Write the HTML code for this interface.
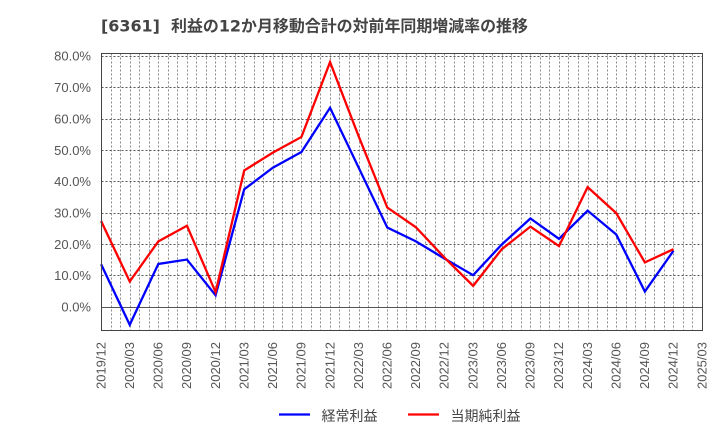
<!DOCTYPE html>
<html lang="ja">
<head>
<meta charset="utf-8">
<title>[6361] 利益の12か月移動合計の対前年同期増減率の推移</title>
<style>
html,body{margin:0;padding:0;background:#fff;}
svg{display:block;}
text{font-family:"Liberation Sans","Noto Sans CJK JP",sans-serif;fill:#555;}
</style>
</head>
<body>
<svg id="chart" xmlns="http://www.w3.org/2000/svg" width="720" height="440" viewBox="0 0 720 440">
  <rect x="0" y="0" width="720" height="440" fill="#fff"/>
  <text x="101" y="31.5" font-size="15.95" font-weight="bold" style="fill:#444;font-family:'DejaVu Sans','Noto Sans CJK JP',sans-serif;">[6361]&#160;&#160;利益の12か月移動合計の対前年同期増減率の推移</text>
  <g id="grid"></g>
  <g id="yticks"></g>
  <g id="xticks"></g>
  <g id="series"></g>
  <rect x="101.5" y="53.5" width="601" height="277" fill="none" stroke="#444" stroke-width="1"/>
  <g>
    <line x1="279" y1="414.5" x2="310" y2="414.5" stroke="#0000ff" stroke-width="2.3"/>
    <text x="321.5" y="421" font-size="14" style="font-family:'Noto Sans CJK JP',sans-serif;fill:#444;">経常利益</text>
    <line x1="408" y1="414.5" x2="439" y2="414.5" stroke="#ff0000" stroke-width="2.3"/>
    <text x="450.5" y="421" font-size="14" style="font-family:'Noto Sans CJK JP',sans-serif;fill:#444;">当期純利益</text>
  </g>
</svg>
<script>
const categories = ["2019/12","2020/03","2020/06","2020/09","2020/12","2021/03","2021/06","2021/09","2021/12","2022/03","2022/06","2022/09","2022/12","2023/03","2023/06","2023/09","2023/12","2024/03","2024/06","2024/09","2024/12","2025/03"];
const ordinaryProfit = [13.7,-5.6,13.8,15.2,3.8,37.6,44.5,49.5,63.6,44.5,25.4,21.0,15.5,10.2,20.0,28.3,21.8,30.8,23.2,5.0,18.0];
const netProfit = [27.5,8.2,21.0,26.0,4.8,43.6,49.3,54.3,78.2,54.5,31.8,25.5,15.8,6.8,18.5,25.7,19.5,38.3,30.0,14.3,18.5];
const yTicks = [0,10,20,30,40,50,60,70,80];

const NS = "http://www.w3.org/2000/svg";
const plotLeft = 101.5, plotRight = 702.5;
const zeroY = 307.2, pxPerPercent = 3.135;
const plotTop = 53.5, plotBottom = 330.5;
const monthsPerCategory = 3;
const markShift = -0.4;

function xScale(i) {
  return plotLeft + i * (plotRight - plotLeft) / (categories.length - 1);
}
function yScale(v) {
  return zeroY - v * pxPerPercent;
}
function make(tag, attrs) {
  const el = document.createElementNS(NS, tag);
  for (const k in attrs) el.setAttribute(k, attrs[k]);
  return el;
}

const grid = document.getElementById("grid");
const monthCount = (categories.length - 1) * monthsPerCategory;
for (let m = 1; m < monthCount; m++) {
  const x = Math.round(xScale(m / monthsPerCategory) - 0.5) + 0.5;
  const line = make("line", {x1: x, x2: x, y1: plotTop, y2: plotBottom, stroke: "#8a8a8a", "stroke-width": 1, "stroke-dasharray": "2 2"});
  
  
  grid.appendChild(line);
}
yTicks.forEach(function (t) {
  const y = Math.round(yScale(t) - 0.5) + 0.5;
  const line = make("line", {x1: plotLeft, x2: plotRight, y1: y, y2: y, stroke: "#555", "stroke-width": 1, "stroke-dasharray": t === 0 ? "none" : "2 2"});
  
  
  grid.appendChild(line);
});

const yGroup = document.getElementById("yticks");
yTicks.forEach(function (t) {
  const label = make("text", {x: 91, y: yScale(t) + 4.3, "text-anchor": "end", "font-size": 13});
  label.textContent = t.toFixed(1) + "%";
  
  
  yGroup.appendChild(label);
});

const xGroup = document.getElementById("xticks");
categories.forEach(function (c, i) {
  const x = xScale(i) + 3.8;
  const label = make("text", {x: x, y: 389, "font-size": 13, transform: "rotate(-90 " + x + " 389)"});
  label.textContent = c;
  
  
  xGroup.appendChild(label);
});

function pointsFor(values) {
  return values.map(function (v, i) {
    return (xScale(i) + markShift).toFixed(2) + "," + yScale(v).toFixed(2);
  }).join(" ");
}
const seriesGroup = document.getElementById("series");

const blueLine = make("polyline", {points: pointsFor(ordinaryProfit), fill: "none", stroke: "#0000ff", "stroke-width": 2.3, "stroke-linejoin": "miter"});


seriesGroup.appendChild(blueLine);

const redLine = make("polyline", {points: pointsFor(netProfit), fill: "none", stroke: "#ff0000", "stroke-width": 2.3, "stroke-linejoin": "miter"});


seriesGroup.appendChild(redLine);
</script>
</body>
</html>
